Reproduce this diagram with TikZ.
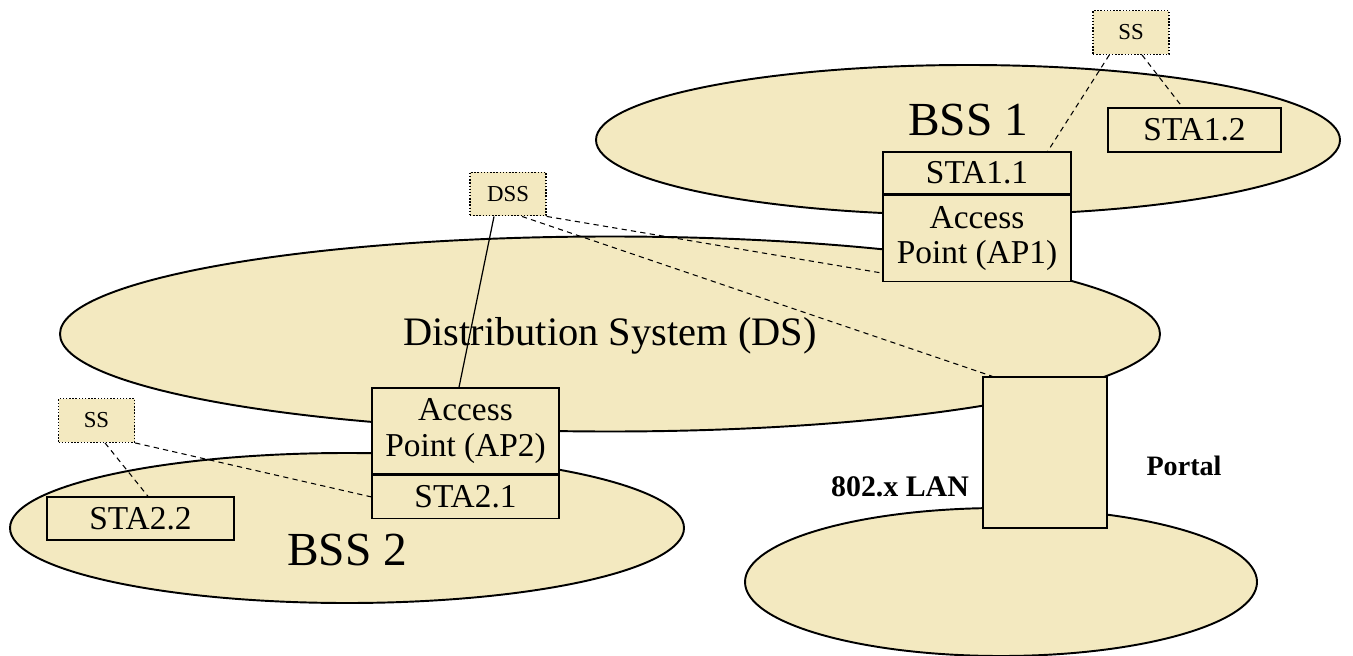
\documentclass[tikz,border=0pt]{standalone}
\usepackage{fontspec}
\setmainfont{Liberation Serif}
\definecolor{BssTan}{RGB}{243, 233, 192}
\usetikzlibrary{positioning, shapes.geometric}

\begin{document}
\begin{tikzpicture}[
  node distance=0cm,
  every node/.style={font=\fontsize{19}{20}\selectfont},
  area/.style={ellipse, draw, line width=1.1pt, fill=BssTan, inner sep=0pt},
  unit/.style={rectangle, draw, line width=0.8pt, fill=BssTan, align=center, inner sep=0pt},
  svc/.style={rectangle, draw, densely dotted, line width=0.8pt, fill=BssTan, inner sep=0pt, minimum width=1.52cm, minimum height=0.87cm, font=\fontsize{13}{14}\selectfont},
  link/.style={dashed, dash pattern=on 3pt off 2.4pt, line width=0.6pt},
  biglabel/.style={font=\fontsize{27}{30}\selectfont}
]
\useasboundingbox (0,0) rectangle (27.06,13.1);

% coverage areas
\node[area, minimum width=14.88cm, minimum height=3cm] (bss1) at (19.36,10.3) {};
\node[area, minimum width=10.24cm, minimum height=2.96cm] (lan) at (20.02,1.46) {};
\node[area, minimum width=22cm, minimum height=3.9cm] (ds) at (12.2,6.42) {};
\node[area, minimum width=13.48cm, minimum height=3cm] (bss2) at (6.94,2.54) {};

\node[biglabel] (bss1lbl) at (19.36,10.7) {BSS 1};
\node[font=\fontsize{23}{26}\selectfont] (dslbl) at (12.2,6.38) {Distribution System (DS)};
\node[biglabel] (bss2lbl) at (6.94,2.1) {BSS 2};

% stations and access points
\node[unit, minimum width=3.76cm, minimum height=0.84cm] (sta11) at (19.54,9.64) {STA1.1};
\node[unit, minimum width=3.76cm, minimum height=1.72cm, below=of sta11] (ap1) {Access\\Point (AP1)};
\node[unit, minimum width=3.46cm, minimum height=0.88cm] (sta12) at (23.89,10.5) {STA1.2};
\node[unit, minimum width=3.74cm, minimum height=1.72cm] (ap2) at (9.31,4.48) {Access\\Point (AP2)};
\node[unit, minimum width=3.74cm, minimum height=0.86cm, below=of ap2] (sta21) {STA2.1};
\node[unit, minimum width=3.74cm, minimum height=0.86cm] (sta22) at (2.81,2.73) {STA2.2};
\node[unit, minimum width=2.48cm, minimum height=3.02cm] (portal) at (20.9,4.05) {};

\node[font=\bfseries\fontsize{17}{20}\selectfont] (lanlbl) at (18.0,3.36) {802.x LAN};
\node[font=\bfseries\fontsize{16}{20}\selectfont] (portallbl) at (23.68,3.78) {Portal};

% services
\node[svc] (ssa) at (22.62,12.45) {SS};
\node[svc] (dss) at (10.16,9.22) {DSS};
\node[svc] (ssb) at (1.93,4.69) {SS};

\draw[link] ([xshift=0.34cm]ssa.south west) -- ([xshift=-0.48cm]sta11.north east);
\draw[link] ([xshift=0.22cm]ssa.south) -- ([xshift=-0.24cm]sta12.north);
\draw[link] (dss.south east) -- ([yshift=0.18cm]ap1.south west);
\draw[link] ([xshift=0.28cm]dss.south) -- ([xshift=0.2cm]portal.north west);
\draw[line width=0.7pt] ([xshift=-0.28cm]dss.south) -- ([xshift=-0.13cm]ap2.north);
\draw[link] (ssb.south east) -- (sta21.west);
\draw[link] ([xshift=0.17cm]ssb.south) -- ([xshift=0.15cm]sta22.north);
\end{tikzpicture}
\end{document}
